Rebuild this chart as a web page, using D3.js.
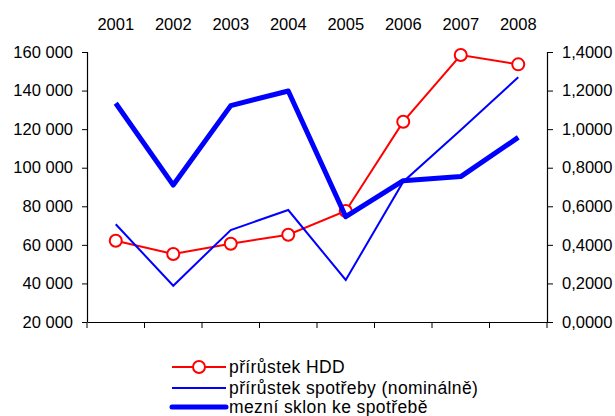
<!DOCTYPE html>
<html><head><meta charset="utf-8">
<script src="https://cdn.jsdelivr.net/npm/d3@7"></script>
<style>body{margin:0;background:#fff}text{font-family:"Liberation Sans",Arial,sans-serif}</style>
</head><body>
<svg id="c" width="615" height="416"></svg>
<script>
const years = ["2001","2002","2003","2004","2005","2006","2007","2008"];
const hdd = [62150, 55260, 60600, 65270, 77550, 123860, 158440, 153600];
const spotreba = [70660, 38820, 67700, 78070, 41780, 92750, 119550, 146870];
const sklon = [1.134, 0.710, 1.122, 1.198, 0.546, 0.733, 0.754, 0.957];
const leftTicks = [20000,40000,60000,80000,100000,120000,140000,160000];
const rightTicks = [0,0.2,0.4,0.6,0.8,1.0,1.2,1.4];
const legendLabels = ["přírůstek HDD","přírůstek spotřeby (nominálně)","mezní sklon ke spotřebě"];

const svg = d3.select("#c");
const L = 87, R = 547, T = 52, B = 322;
const x = d3.scaleBand().domain(years).range([L, R]);
const yL = d3.scaleLinear().domain([20000,160000]).range([B, T]);
const yR = d3.scaleLinear().domain([0,1.4]).range([B, T]);
const fs = 16.5;
const fmtL = v => d3.format(",")(v).replace(/,/g, " ");
const fmtR = v => d3.format(".4f")(v).replace(".", ",");

const gl = svg.append("g").attr("transform", `translate(${L},0)`)
  .call(d3.axisLeft(yL).tickValues(leftTicks).tickFormat(fmtL).tickSize(5).tickPadding(9));
const gr = svg.append("g").attr("transform", `translate(${R},0)`)
  .call(d3.axisRight(yR).tickValues(rightTicks).tickFormat(fmtR).tickSize(6).tickPadding(9));
const gb = svg.append("g").attr("transform", `translate(0,${B})`)
  .call(d3.axisBottom(x).tickSize(0).tickFormat(""));
const bounds = years.map(d => x(d)).concat([R]);
svg.append("g").selectAll("line").data(bounds).join("line")
  .attr("x1", d => d).attr("x2", d => d).attr("y1", B).attr("y2", B + 6)
  .attr("stroke", "#000").attr("stroke-width", 1);
[gl, gr, gb].forEach(g => {
  g.select(".domain").attr("stroke", "#000").attr("stroke-width", 1.2);
  g.selectAll(".tick line").attr("stroke", "#000");
  g.selectAll("text").attr("font-size", fs).attr("fill", "#000").attr("font-family", '"Liberation Sans",Arial,sans-serif');
});
gl.select(".domain").attr("d", `M0.5,${T}V${B}`);
gr.select(".domain").attr("d", `M0.5,${T}V${B}`);

svg.append("g").selectAll("text").data(years).join("text")
  .attr("x", d => x(d) + x.bandwidth()/2).attr("y", 30)
  .attr("text-anchor", "middle").attr("font-size", fs).text(d => d);

const cx = d => x(d) + x.bandwidth()/2;
const lineL = d3.line().x((d,i) => cx(years[i])).y(d => yL(d));
const lineR = d3.line().x((d,i) => cx(years[i])).y(d => yR(d));

svg.append("path").datum(hdd).attr("d", lineL).attr("fill", "none").attr("stroke", "#ff0000").attr("stroke-width", 2);
svg.append("g").selectAll("circle").data(hdd).join("circle")
  .attr("cx", (d,i) => cx(years[i])).attr("cy", d => yL(d)).attr("r", 6)
  .attr("fill", "#fff").attr("stroke", "#ff0000").attr("stroke-width", 2);
svg.append("path").datum(spotreba).attr("d", lineL).attr("fill", "none").attr("stroke", "#0000ff").attr("stroke-width", 2);
svg.append("path").datum(sklon).attr("d", lineR).attr("fill", "none").attr("stroke", "#0000ff").attr("stroke-width", 5).attr("stroke-linejoin", "round");

const lx1 = 172, lx2 = 226, tx = 229;
const ly = [367, 388, 407];
const lg = svg.append("g");
lg.append("line").attr("x1", lx1).attr("x2", lx2).attr("y1", ly[0]).attr("y2", ly[0]).attr("stroke", "#ff0000").attr("stroke-width", 2);
lg.append("circle").attr("cx", (lx1+lx2)/2).attr("cy", ly[0]).attr("r", 6).attr("fill", "#fff").attr("stroke", "#ff0000").attr("stroke-width", 2);
lg.append("line").attr("x1", lx1).attr("x2", lx2).attr("y1", ly[1]).attr("y2", ly[1]).attr("stroke", "#0000ff").attr("stroke-width", 2);
lg.append("line").attr("x1", lx1).attr("x2", lx2).attr("y1", ly[2]).attr("y2", ly[2]).attr("stroke", "#0000ff").attr("stroke-width", 5).attr("stroke-linecap","round");
lg.selectAll("text").data(legendLabels).join("text")
  .attr("x", tx).attr("y", (d,i) => ly[i]).attr("dy", "0.36em").attr("font-size", 17.5).attr("letter-spacing", 0.4).text(d => d);
</script>
</body></html>
